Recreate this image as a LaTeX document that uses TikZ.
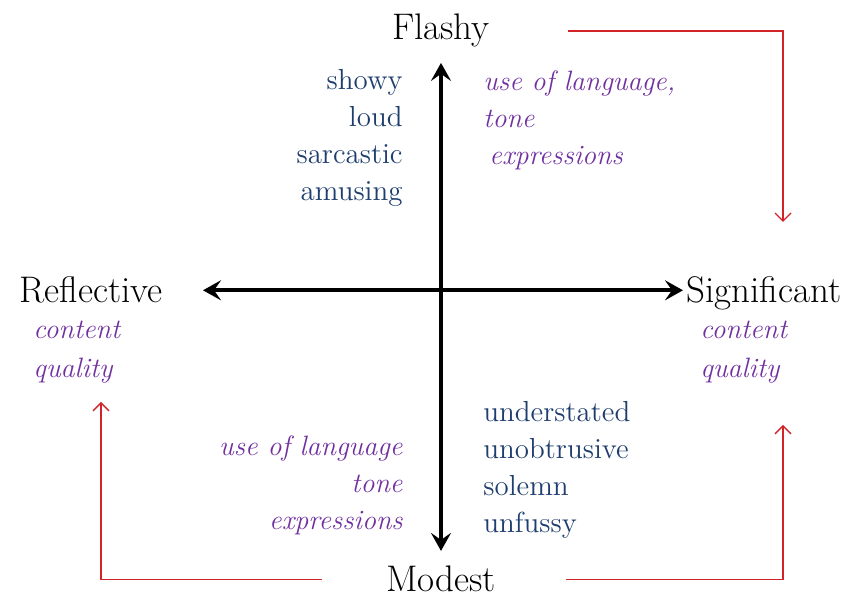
\documentclass[tikz,border=0pt]{standalone}
\usepackage{tikz}
\usetikzlibrary{positioning, arrows.meta, calc}
\definecolor{axisblue}{RGB}{31, 62, 110}
\definecolor{notepurple}{RGB}{112, 48, 160}
\definecolor{loopred}{RGB}{210, 35, 40}
\tikzset{
  poleLabel/.style={
    inner sep=0pt,
    font=\fontsize{18.5}{21}\selectfont
  },
  traitList/.style={
    inner sep=0pt,
    text=axisblue,
    font=\fontsize{14.5}{18.5}\selectfont
  },
  noteList/.style={
    inner sep=0pt,
    text=notepurple,
    font=\fontsize{14}{18.5}\selectfont\itshape
  },
  axisArrow/.style={
    line width=2pt,
    {Stealth[length=9pt,width=10pt,inset=3.5pt]}-{Stealth[length=9pt,width=10pt,inset=3.5pt]}
  },
  feedback/.style={
    draw=loopred,
    line width=0.7pt,
    -{Straight Barb[length=4pt,width=8pt]}
  }
}

\begin{document}
\begin{tikzpicture}[x=0.5pt, y=-0.5pt]
      \useasboundingbox (0,0) rectangle (864,597);

      % poles
      \node[poleLabel, anchor=base] (flashy) at (441,40) {Flashy};
      \node[poleLabel, anchor=base] (modest) at (441,592) {Modest};
      \node[poleLabel, anchor=base east] (reflective) at (163,303) {Reflective};
      \node[poleLabel, anchor=base west] (significant) at (686,303) {Significant};

      % axes
      \draw[axisArrow, shorten <=20pt, shorten >=1.5pt] (reflective.east) -- (reflective.east -| significant.west);
      \draw[axisArrow, shorten <=7.5pt, shorten >=7.5pt] (flashy.south) -- (modest.north);

      % quadrant texts
      \node[traitList, align=right, anchor=east] (flashyTraits) at (403,138)
        {showy\\ loud\\ sarcastic\\ amusing};
      \node[noteList, align=left, anchor=west] (flashyNotes) at (483,120)
        {use of language,\\ tone\\ \hspace*{3pt}expressions};
      \node[traitList, align=left, anchor=west] (modestTraits) at (483,470)
        {understated\\ unobtrusive\\ solemn\\ unfussy};
      \node[noteList, align=right, anchor=east] (modestNotes) at (403,485)
        {use of language\\ tone\\ expressions};
      \node[noteList, align=left, anchor=west, font=\fontsize{14}{19.5}\selectfont\itshape] (reflectiveNotes) at (33,352)
        {content\\ quality};
      \node[noteList, align=left, anchor=west, font=\fontsize{14}{19.5}\selectfont\itshape] (significantNotes) at (700,352)
        {content\\ quality};

      % feedback loops
      \coordinate (sigTop) at (783,222);
      \coordinate (sigBottom) at (783,425);
      \coordinate (refBottom) at (101,402);
      \draw[feedback] ([xshift=39pt]flashy.east) -| (sigTop);
      \draw[feedback] ([xshift=-32pt]modest.west) -| (refBottom);
      \draw[feedback] ([xshift=35pt]modest.east) -| (sigBottom);
    \end{tikzpicture}
\end{document}
